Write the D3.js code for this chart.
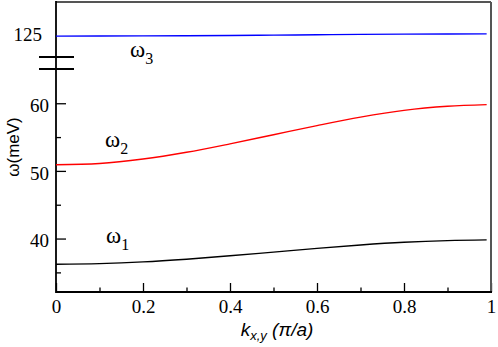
<!DOCTYPE html>
<html>
<head>
<meta charset="utf-8">
<script src="https://cdn.jsdelivr.net/npm/d3@7"></script>
<style>
  body { margin: 0; background: #fff; }
  svg { display: block; }
  .tick text { font-family: "Liberation Serif", "Times New Roman", serif; font-size: 19px; fill: #000; }
  .tick line { stroke: #000; stroke-width: 1.3; }
</style>
</head>
<body>
<svg id="chart" width="498" height="347"></svg>
<script>
// wavevector along (k,k) in units of pi/a
const kValues = [0, 0.1, 0.2, 0.3, 0.4, 0.5, 0.6, 0.7, 0.8, 0.9, 0.99]
// three branches, meV
const omega1 = [36.2, 36.3, 36.55, 36.95, 37.45, 38.0, 38.55, 39.05, 39.45, 39.7, 39.8]
const omega2 = [50.9, 51.1, 51.75, 52.75, 54.0, 55.35, 56.7, 57.95, 58.95, 59.55, 59.8]
const omega3 = [124.95, 124.96, 124.98, 125.01, 125.05, 125.1, 125.15, 125.2, 125.24, 125.27, 125.28]

const xMajor = [0, 0.2, 0.4, 0.6, 0.8, 1]
const xMinor = [0.1, 0.3, 0.5, 0.7, 0.9]
const yMajor = [40, 50, 60]
const yMinor = [35, 45, 55]
const yUpperLabel = 125

const plot = { left: 56, right: 491, top: 2, bottom: 292 }

const svg = d3.select('#chart')

const x = d3.scaleLinear().domain([0, 1]).range([plot.left, plot.right])
// broken axis: 32..66 below the break, 121..130 above it
const y = d3.scaleLinear()
  .domain([32.1, 65.95, 120.97, 130])
  .range([plot.bottom, 63, 63, plot.top])

// x axis, ticks pointing inward
svg.append('g')
  .attr('transform', 'translate(0,' + plot.bottom + ')')
  .call(d3.axisBottom(x).tickValues(xMajor).tickSize(-9).tickPadding(8).tickFormat(d => String(d)))
  .call(g => g.select('.domain').remove())
svg.append('g')
  .attr('transform', 'translate(0,' + plot.bottom + ')')
  .call(d3.axisBottom(x).tickValues(xMinor).tickSize(-4.5).tickFormat(''))
  .call(g => g.select('.domain').remove())

// y axis
svg.append('g')
  .attr('transform', 'translate(' + plot.left + ',0)')
  .call(d3.axisLeft(y).tickValues(yMajor).tickSize(-10).tickPadding(7).tickFormat(d => String(d)))
  .call(g => g.select('.domain').remove())
  .call(g => g.selectAll('.tick text').attr('dy', '0.44em'))
svg.append('g')
  .attr('transform', 'translate(' + plot.left + ',0)')
  .call(d3.axisLeft(y).tickValues(yMinor).tickSize(-5).tickFormat(''))
  .call(g => g.select('.domain').remove())

svg.append('text')
  .attr('x', 42)
  .attr('y', y(yUpperLabel))
  .attr('dy', '0.3em')
  .attr('text-anchor', 'end')
  .attr('font-family', '"Liberation Serif", serif')
  .attr('font-size', 19)
  .text(String(yUpperLabel))

// frame
svg.append('line').attr('x1', plot.left).attr('x2', plot.right).attr('y1', plot.top).attr('y2', plot.top)
  .attr('stroke', '#555').attr('stroke-width', 2)
svg.append('line').attr('x1', plot.right).attr('x2', plot.right).attr('y1', plot.top).attr('y2', plot.bottom)
  .attr('stroke', '#555').attr('stroke-width', 2)
svg.append('line').attr('x1', plot.left).attr('x2', plot.left).attr('y1', plot.top - 1).attr('y2', plot.bottom + 1)
  .attr('stroke', '#000').attr('stroke-width', 1.8)
svg.append('line').attr('x1', plot.left).attr('x2', plot.right + 1).attr('y1', plot.bottom).attr('y2', plot.bottom)
  .attr('stroke', '#000').attr('stroke-width', 1.8)

// break marks
;[57, 69].forEach(yy => {
  svg.append('line').attr('x1', 39).attr('x2', 74).attr('y1', yy).attr('y2', yy)
    .attr('stroke', '#000').attr('stroke-width', 2.2)
})

// curves
const line = d3.line()
  .x((d, i) => x(kValues[i]))
  .y(d => y(d))
  .curve(d3.curveMonotoneX)

const series = [
  { values: omega1, color: '#000000', label: '1', lx: 106, ly: 243 },
  { values: omega2, color: '#ff0000', label: '2', lx: 105, ly: 147 },
  { values: omega3, color: '#0000ff', label: '3', lx: 130, ly: 57 }
]

series.forEach(s => {
  svg.append('path')
    .datum(s.values)
    .attr('fill', 'none')
    .attr('stroke', s.color)
    .attr('stroke-width', 1.4)
    .attr('d', line)

  const t = svg.append('text')
    .attr('x', s.lx)
    .attr('y', s.ly)
    .attr('font-family', '"Liberation Serif", serif')
    .attr('font-size', 23)
  t.append('tspan').text('\u03c9')
  t.append('tspan').attr('font-size', 16).attr('dy', 7).text(s.label)
})

// axis titles
const xt = svg.append('text')
  .attr('x', 277)
  .attr('y', 336)
  .attr('text-anchor', 'middle')
  .attr('font-family', '"Liberation Sans", Arial, sans-serif')
  .attr('font-style', 'italic')
  .attr('font-size', 19)
xt.append('tspan').text('k')
xt.append('tspan').attr('font-size', 13).attr('dy', 4).text('x,y')
xt.append('tspan').attr('dy', -4).text(' (\u03c0/a)')

svg.append('text')
  .attr('transform', 'translate(19,147) rotate(-90)')
  .attr('text-anchor', 'middle')
  .attr('font-family', '"Liberation Sans", Arial, sans-serif')
  .attr('font-size', 17)
  .text('\u03c9(meV)')
</script>
</body>
</html>
